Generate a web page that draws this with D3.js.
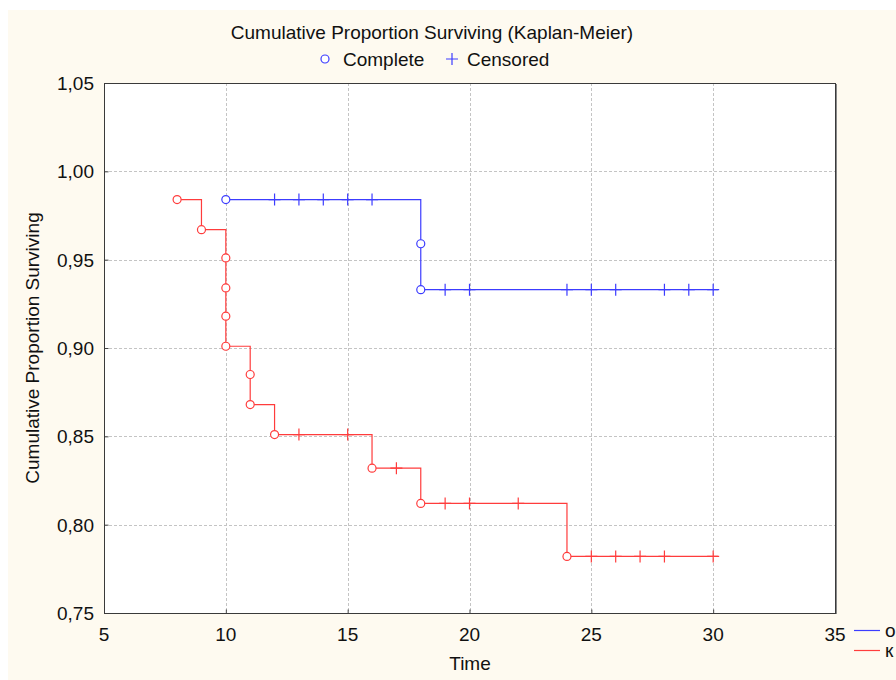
<!DOCTYPE html>
<html>
<head>
<meta charset="utf-8">
<script src="https://cdn.jsdelivr.net/npm/d3@7"></script>
<style>
  html, body { margin: 0; padding: 0; background: #fff; }
  svg { display: block; font-family: "Liberation Sans", Arial, sans-serif; }
</style>
</head>
<body>
<svg id="chart" width="896" height="680"></svg>
<script>
// Kaplan-Meier estimates
var xTicks = [5, 10, 15, 20, 25, 30, 35];
var yTicks = [0.75, 0.80, 0.85, 0.90, 0.95, 1.00, 1.05];

// group "о" (blue)
var blueEvents = [
  {t: 10, s: 0.984},
  {t: 18, s: 0.959},
  {t: 18, s: 0.933}
];
var blueCensored = [
  {t: 12, s: 0.984}, {t: 13, s: 0.984}, {t: 14, s: 0.984}, {t: 15, s: 0.984}, {t: 16, s: 0.984},
  {t: 19, s: 0.933}, {t: 20, s: 0.933}, {t: 24, s: 0.933}, {t: 25, s: 0.933},
  {t: 26, s: 0.933}, {t: 28, s: 0.933}, {t: 29, s: 0.933}, {t: 30, s: 0.933}
];
var blueEnd = 30.2;

// group "к" (red)
var redEvents = [
  {t: 8, s: 0.984},
  {t: 9, s: 0.967},
  {t: 10, s: 0.951}, {t: 10, s: 0.934}, {t: 10, s: 0.918}, {t: 10, s: 0.901},
  {t: 11, s: 0.885}, {t: 11, s: 0.868},
  {t: 12, s: 0.851},
  {t: 16, s: 0.832},
  {t: 18, s: 0.812},
  {t: 24, s: 0.782}
];
var redCensored = [
  {t: 13, s: 0.851}, {t: 15, s: 0.851},
  {t: 17, s: 0.832},
  {t: 19, s: 0.812}, {t: 20, s: 0.812}, {t: 22, s: 0.812},
  {t: 25, s: 0.782}, {t: 26, s: 0.782}, {t: 27, s: 0.782}, {t: 28, s: 0.782}, {t: 30, s: 0.782}
];
var redEnd = 30.2;

var groupNames = ["о", "к"];
var groupColors = ["#3c3cff", "#ff3c3c"];

var FS = 19;

var svg = d3.select("#chart");

var margin = {l: 104, t: 83, r: 835, b: 613};

// page background
svg.append("rect").attr("x", 0).attr("y", 0).attr("width", 896).attr("height", 680).attr("fill", "#ffffff");
svg.append("rect").attr("x", 8).attr("y", 10).attr("width", 888).attr("height", 670).attr("fill", "#fefaf0");

var x = d3.scaleLinear().domain([5, 35]).range([margin.l, margin.r]);
var y = d3.scaleLinear().domain([0.75, 1.05]).range([margin.b, margin.t]);

// plot area
svg.append("rect")
  .attr("x", margin.l).attr("y", margin.t)
  .attr("width", margin.r - margin.l).attr("height", margin.b - margin.t)
  .attr("fill", "#ffffff");

// grid
var grid = svg.append("g").attr("stroke", "#c4c4c4").attr("stroke-dasharray", "3,2").attr("stroke-width", 1);
xTicks.slice(1, -1).forEach(function(v) {
  grid.append("line").attr("x1", Math.round(x(v)) + 0.5).attr("x2", Math.round(x(v)) + 0.5)
    .attr("y1", margin.t).attr("y2", margin.b);
});
yTicks.slice(1, -1).forEach(function(v) {
  grid.append("line").attr("y1", Math.round(y(v)) + 0.5).attr("y2", Math.round(y(v)) + 0.5)
    .attr("x1", margin.l).attr("x2", margin.r);
});

// axes (ticks inside, labels outside)
var fmt = function(d) { return d3.format(".2f")(d).replace(".", ","); };

var yAxis = svg.append("g")
  .attr("transform", "translate(" + (margin.l + 0.5) + ",0)")
  .call(d3.axisRight(y).tickValues(yTicks).tickSize(4).tickFormat(""));
yAxis.select(".domain").remove();
yAxis.selectAll("line").attr("stroke", "#444");

var xAxis = svg.append("g")
  .attr("transform", "translate(0," + (margin.b + 0.5) + ")")
  .call(d3.axisTop(x).tickValues(xTicks).tickSize(4).tickFormat(""));
xAxis.select(".domain").remove();
xAxis.selectAll("line").attr("stroke", "#444");

svg.append("g").selectAll("text").data(yTicks).join("text")
  .attr("x", 94).attr("y", function(d) { return y(d) + 7; })
  .attr("text-anchor", "end").attr("font-size", FS).attr("fill", "#111")
  .text(fmt);

svg.append("g").selectAll("text").data(xTicks).join("text")
  .attr("x", function(d) { return x(d); }).attr("y", 641)
  .attr("text-anchor", "middle").attr("font-size", FS).attr("fill", "#111")
  .text(function(d) { return d; });

// frame with a small shadow on the right
svg.append("line").attr("x1", margin.r + 1.5).attr("x2", margin.r + 1.5)
  .attr("y1", margin.t + 1).attr("y2", margin.b + 1).attr("stroke", "#888").attr("stroke-width", 1);
svg.append("rect")
  .attr("x", margin.l + 0.5).attr("y", margin.t + 0.5)
  .attr("width", margin.r - margin.l).attr("height", margin.b - margin.t)
  .attr("fill", "none").attr("stroke", "#3a3a3a").attr("stroke-width", 1);

// step curve builder
function stepPoints(events, end) {
  var pts = [];
  events.forEach(function(e, i) {
    if (i > 0) pts.push([e.t, events[i - 1].s]);
    pts.push([e.t, e.s]);
  });
  pts.push([end, events[events.length - 1].s]);
  return pts;
}

var line = d3.line().x(function(d) { return x(d[0]); }).y(function(d) { return y(d[1]); });

function drawGroup(events, censored, end, color) {
  var g = svg.append("g");
  g.append("path").datum(stepPoints(events, end)).attr("d", line)
    .attr("fill", "none").attr("stroke", color).attr("stroke-width", 1.2);
  g.selectAll("circle").data(events).join("circle")
    .attr("cx", function(d) { return x(d.t); }).attr("cy", function(d) { return y(d.s); })
    .attr("r", 4).attr("fill", "#fff").attr("stroke", color).attr("stroke-width", 1.2);
  g.selectAll("path.cens").data(censored).join("path").attr("class", "cens")
    .attr("d", function(d) {
      var cx = x(d.t), cy = y(d.s);
      return "M" + (cx - 6) + "," + cy + "H" + (cx + 6) + "M" + cx + "," + (cy - 6) + "V" + (cy + 6);
    })
    .attr("stroke", color).attr("stroke-width", 1.2).attr("fill", "none");
}

drawGroup(redEvents, redCensored, redEnd, groupColors[1]);
drawGroup(blueEvents, blueCensored, blueEnd, groupColors[0]);

// titles
svg.append("text").attr("x", 432).attr("y", 39).attr("text-anchor", "middle")
  .attr("font-size", FS).attr("fill", "#111").text("Cumulative Proportion Surviving (Kaplan-Meier)");

svg.append("text").attr("x", 470).attr("y", 670).attr("text-anchor", "middle")
  .attr("font-size", FS).attr("fill", "#111").text("Time");

svg.append("text")
  .attr("transform", "translate(39," + ((margin.t + margin.b) / 2) + ") rotate(-90)")
  .attr("text-anchor", "middle").attr("font-size", FS).attr("fill", "#111")
  .text("Cumulative Proportion Surviving");

// marker legend
var leg = svg.append("g");
leg.append("circle").attr("cx", 325).attr("cy", 59).attr("r", 4)
  .attr("fill", "#fff").attr("stroke", "#3c3cff").attr("stroke-width", 1.2);
leg.append("text").attr("x", 343).attr("y", 66).attr("font-size", FS).attr("fill", "#111").text("Complete");
leg.append("path").attr("d", "M446,59H458M452,53V65").attr("stroke", "#3c3cff").attr("stroke-width", 1.2);
leg.append("text").attr("x", 467).attr("y", 66).attr("font-size", FS).attr("fill", "#111").text("Censored");

// group legend (cut by the page edge)
var gl = svg.append("g");
groupNames.forEach(function(name, i) {
  var yy = 630 + i * 20;
  gl.append("line").attr("x1", 854).attr("x2", 880).attr("y1", yy + 0.5).attr("y2", yy + 0.5)
    .attr("stroke", groupColors[i]).attr("stroke-width", 1.2);
  gl.append("text").attr("x", 885).attr("y", yy + 7).attr("font-size", FS).attr("fill", "#111").text(name);
});
</script>
</body>
</html>
